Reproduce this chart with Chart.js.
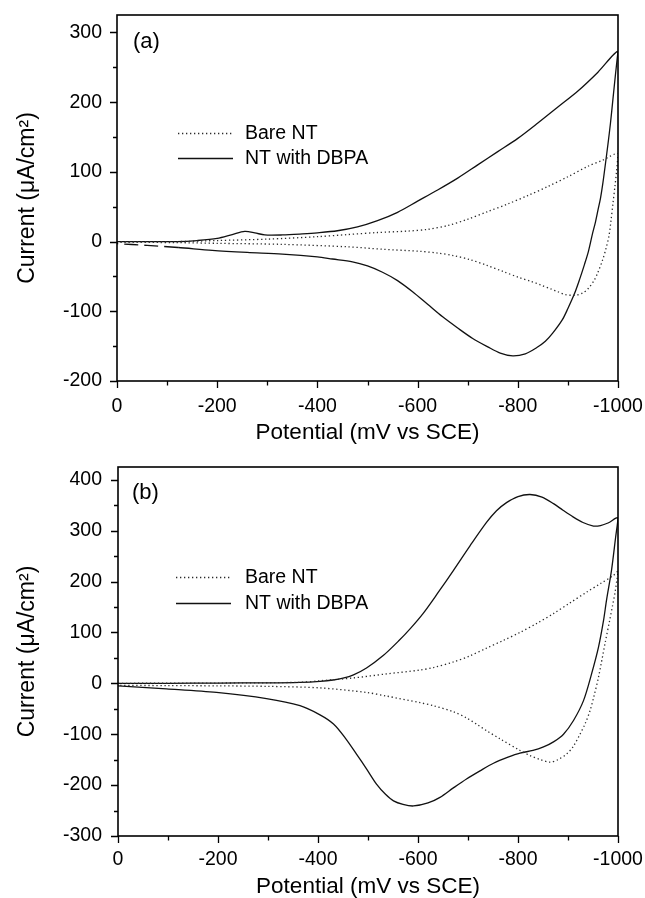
<!DOCTYPE html>
<html><head><meta charset="utf-8">
<script src="https://cdn.jsdelivr.net/npm/chart.js@4"></script>
<style>
html,body{margin:0;padding:0;background:#fff;}
.wrap{position:relative;width:645px;height:449px;}
</style></head><body>
<div class="wrap"><canvas id="ca"></canvas></div>
<div class="wrap"><canvas id="cb"></canvas></div>
<script>
// ---------- data (potential in mV vs SCE, current in µA/cm²) ----------
const panelLabels = ['(a)', '(b)'];
const seriesLabels = ['Bare NT', 'NT with DBPA'];
const xAxisTitle = 'Potential (mV vs SCE)';
const yAxisTitle = 'Current (\u03BCA/cm\u00B2)';

// panel (a) - Bare NT
const aBareFwdE = [0, -120, -200, -300, -400, -460, -520, -580, -620, -660, -700, -740, -780, -820, -860, -900, -940, -970, -1000];
const aBareFwdI = [0, 0, 1.5, 3.5, 7, 10, 13, 15, 17.5, 23, 32, 43, 54, 66, 79, 93, 108, 117, 126];
const aBareRevE = [-997, -994, -990, -986, -982, -976, -969, -960, -953, -941, -929, -913, -895, -880, -866, -845, -826, -804, -771, -738, -705, -671, -640, -605, -530, -460, -330, -200, -120, 0];
const aBareRevI = [100, 80, 55, 30, 8, -10, -27, -44, -55, -67, -74, -77, -76, -72, -68, -62, -57, -52, -43, -34, -26, -20, -16.5, -14, -11, -7.5, -4, -2.5, -1.5, -1];
// panel (a) - NT with DBPA
const aDbpaFwdE = [0, -60, -120, -160, -200, -230, -255, -275, -295, -330, -370, -400, -440, -480, -520, -560, -600, -640, -680, -720, -760, -800, -840, -880, -920, -960, -1000];
const aDbpaFwdI = [0, 0, 0, 1.5, 4.5, 10, 14.5, 12.5, 9.5, 9.5, 11, 12.5, 15.5, 21, 30, 42, 58, 74, 91, 110, 129, 148, 170, 193, 216, 243, 273];
const aDbpaRevE = [-995, -990, -985, -980, -975, -970, -965, -960, -955, -949, -941, -933, -923, -913, -900, -889, -870, -855, -838, -815, -790, -765, -740, -710, -680, -650, -620, -590, -560, -530, -500, -470, -430, -400, -330, -260, -190, -122, -60, 0];
const aDbpaRevI = [240, 205, 170, 140, 112, 85, 62, 45, 28, 11, -14, -33, -55, -75, -96, -112, -131, -143, -152, -161, -164, -160, -151, -139, -124, -108, -90, -72, -56, -44, -35, -29, -25, -22, -18, -15.5, -12.5, -8.5, -5.5, -3];

// panel (b) - Bare NT
const bBareFwdE = [0, -200, -364, -404, -471, -537, -604, -631, -671, -704, -737, -770, -804, -838, -871, -904, -937, -965, -991, -1000];
const bBareFwdI = [0, 0.5, 2, 5, 10.6, 18.5, 26, 31, 42, 54, 69, 84, 100, 118, 137, 158, 179, 196, 212, 220];
const bBareRevE = [-998, -994, -989, -984, -974, -961, -952, -944, -934, -924, -910, -897, -880, -864, -845, -824, -804, -764, -737, -720, -697, -671, -631, -604, -537, -497, -404, -300, -200, -100, 0];
const bBareRevI = [205, 178, 152, 127, 78, 12, -25, -54, -80, -100, -125, -139, -150, -155, -150, -142, -132, -109, -93, -82, -68, -56, -44, -38, -25, -18, -9, -6, -5, -4.5, -4];
// panel (b) - NT with DBPA
const bDbpaFwdE = [0, -100, -200, -300, -364, -404, -430, -450, -471, -497, -531, -561, -585, -610, -640, -671, -704, -737, -757, -777, -800, -824, -848, -871, -890, -910, -930, -951, -965, -980, -1000];
const bDbpaFwdI = [0, 0, 0.5, 1, 2, 4, 6.5, 10, 16.5, 30, 55, 83, 108, 137, 178, 222, 270, 316, 339, 355, 367, 371, 366, 353, 340, 327, 316, 309, 310, 315, 325];
const bDbpaRevE = [-995, -987, -977, -971, -961, -947, -931, -911, -891, -871, -851, -830, -804, -780, -751, -724, -697, -670, -644, -620, -591, -570, -551, -535, -517, -497, -477, -455, -431, -404, -364, -297, -197, -97, 0];
const bDbpaRevI = [285, 222, 163, 123, 71, 18, -34, -73, -100, -115, -125, -132, -137, -145, -157, -172, -188, -206, -224, -235, -241, -238, -231, -218, -198, -168, -139, -108, -80, -62, -44, -30, -18, -11, -5];

// axis ranges
const xRange = [-1000, 0];
const aYRange = [-200, 325];
const bYRange = [-300, 425];

// ---------- helpers ----------
const FONT = "'Liberation Sans', Arial, Helvetica, sans-serif";
Chart.defaults.color = '#000';

function loop(fe, fi, re, ri) {
  const pts = [];
  fe.forEach((e, k) => pts.push({x: e, y: fi[k]}));
  re.forEach((e, k) => pts.push({x: e, y: ri[k]}));
  return pts;
}

const decor = {
  id: 'decor',
  afterDraw(chart, args, o) {
    const {ctx, chartArea: ca, scales: {x, y}} = chart;
    ctx.save();
    ctx.strokeStyle = '#000';
    // ticks
    ctx.lineWidth = 1.3;
    ctx.beginPath();
    x.ticks.forEach(t => {
      const px = Math.round(x.getPixelForValue(t.value)) + 0.5;
      const len = (t.value % 200 === 0) ? 7 : 4.5;
      ctx.moveTo(px, ca.bottom); ctx.lineTo(px, ca.bottom + len);
    });
    y.ticks.forEach(t => {
      const py = Math.round(y.getPixelForValue(t.value)) + 0.5;
      const len = (t.value % 100 === 0) ? 7 : 4;
      ctx.moveTo(ca.left - len, py); ctx.lineTo(ca.left, py);
    });
    ctx.stroke();
    // frame
    ctx.lineWidth = 1.6;
    ctx.strokeRect(ca.left, ca.top, ca.right - ca.left, ca.bottom - ca.top);
    // panel label
    ctx.fillStyle = '#000';
    ctx.font = '22px ' + FONT;
    ctx.textBaseline = 'middle';
    ctx.textAlign = 'left';
    ctx.fillText(o.label, ca.left + o.labelX, ca.top + o.labelY);
    // legend
    ctx.font = '19.5px ' + FONT;
    chart.data.datasets.forEach((ds, i) => {
      const ly = ca.top + o.legendY + i * o.legendGap;
      ctx.save();
      ctx.strokeStyle = ds.borderColor;
      ctx.lineWidth = ds.borderWidth;
      ctx.setLineDash(ds.borderDash || []);
      ctx.beginPath();
      ctx.moveTo(ca.left + o.legendX, ly + 0.5);
      ctx.lineTo(ca.left + o.legendX + 55, ly + 0.5);
      ctx.stroke();
      ctx.restore();
      ctx.fillText(ds.label, ca.left + o.textX, ly + 1);
    });
    ctx.restore();
  }
};

function zeroPad(s) { s.paddingTop = 0; s.paddingBottom = 0; s.paddingLeft = 0; s.paddingRight = 0; }

function makeChart(id, bare, dbpa, yRange, lay, deco, dbpaSegment) {
  return new Chart(document.getElementById(id), {
    type: 'scatter',
    data: {
      datasets: [
        {label: seriesLabels[0], data: bare.pts, showLine: true, borderColor: '#2a2a2a', borderWidth: 1.3,
         borderDash: [1.3, 2.7], pointRadius: 0, tension: 0.3},
        {label: seriesLabels[1], data: dbpa.pts, showLine: true, borderColor: '#111', borderWidth: 1.3,
         pointRadius: 0, tension: 0.3, segment: dbpaSegment || {}}
      ]
    },
    options: {
      responsive: true, maintainAspectRatio: false, animation: false,
      layout: {padding: {top: lay.top, right: 27, left: 0, bottom: 0}},
      plugins: {legend: {display: false}, tooltip: {enabled: false}, decor: deco},
      scales: {
        x: {
          type: 'linear', min: xRange[0], max: xRange[1], reverse: true,
          grid: {display: false, drawTicks: false}, border: {display: false},
          ticks: {stepSize: 100, autoSkip: false, includeBounds: false, maxRotation: 0,
                  padding: lay.xPad, color: '#000', font: {family: FONT, size: 19.5},
                  callback: v => (v % 200 === 0 ? String(v === 0 ? 0 : v) : '')},
          title: {display: true, text: xAxisTitle, color: '#000',
                  font: {family: FONT, size: 22.5, lineHeight: 1}, padding: {top: 0, bottom: lay.xTitlePad}},
          afterFit: s => { s.height = lay.xH; zeroPad(s); }
        },
        y: {
          type: 'linear', min: yRange[0], max: yRange[1],
          grid: {display: false, drawTicks: false}, border: {display: false},
          ticks: {stepSize: 50, autoSkip: false, includeBounds: false,
                  padding: lay.yPad, color: '#000', font: {family: FONT, size: 19.5},
                  callback: v => (v % 100 === 0 ? String(v === 0 ? 0 : v) : '')},
          title: {display: true, text: yAxisTitle, color: '#000',
                  font: {family: FONT, size: 23, lineHeight: 1}, padding: {top: 16, bottom: 0}},
          afterFit: s => { s.width = lay.yW; zeroPad(s); }
        }
      }
    },
    plugins: [decor]
  });
}

const aBare = {pts: loop(aBareFwdE, aBareFwdI, aBareRevE, aBareRevI)};
const aDbpa = {pts: loop(aDbpaFwdE, aDbpaFwdI, aDbpaRevE, aDbpaRevI), fwdLen: aDbpaFwdE.length};
const bBare = {pts: loop(bBareFwdE, bBareFwdI, bBareRevE, bBareRevI)};
const bDbpa = {pts: loop(bDbpaFwdE, bDbpaFwdI, bDbpaRevE, bDbpaRevI), fwdLen: bDbpaFwdE.length};

makeChart('ca', aBare, aDbpa, aYRange,
  {top: 15, xH: 68, yW: 117, xPad: 14, yPad: 15, xTitlePad: 5},
  {label: panelLabels[0], labelX: 16, labelY: 27, legendX: 61, legendY: 118, legendGap: 25, textX: 128},
  {borderDash: c => (c.p0DataIndex >= aDbpa.fwdLen && c.p0.parsed.x >= -125) ? [14, 6] : undefined});

makeChart('cb', bBare, bDbpa, bYRange,
  {top: 18, xH: 62, yW: 118, xPad: 12, yPad: 16, xTitlePad: 0},
  {label: panelLabels[1], labelX: 14, labelY: 26, legendX: 58, legendY: 110, legendGap: 26, textX: 127},
  null);
</script>
</body></html>
